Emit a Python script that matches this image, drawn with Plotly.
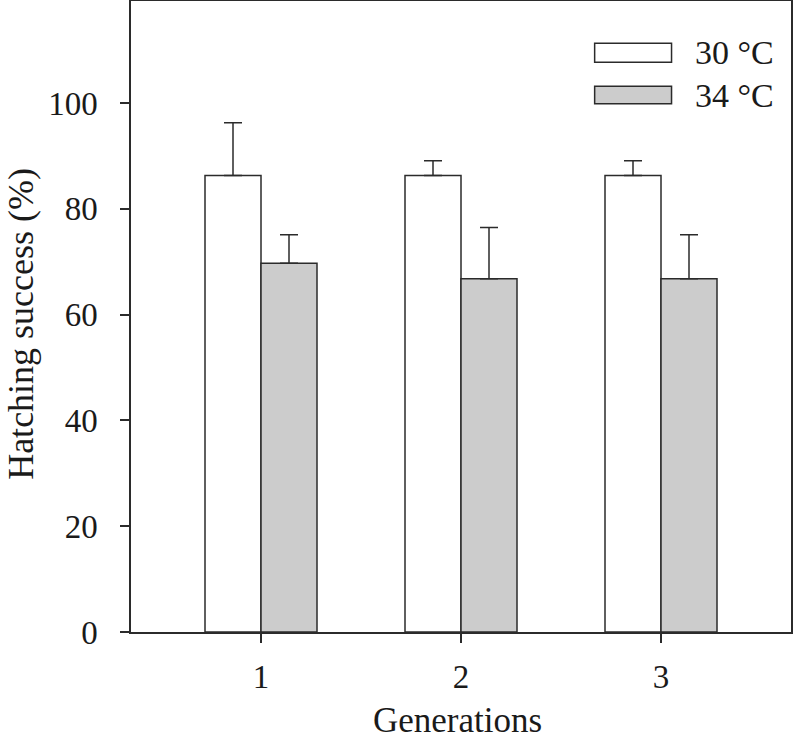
import plotly.graph_objects as go

generations = [1, 2, 3]
tick_labels = ["1", "2", "3"]
hatch_30 = [86.3, 86.3, 86.3]
err_30 = [10.0, 2.8, 2.8]
hatch_34 = [69.7, 66.8, 66.8]
err_34 = [5.4, 9.7, 8.3]
series_names = ["30 °C", "34 °C"]
x_title = "Generations"
y_title = "Hatching success (%)"

FONT = "Liberation Serif, Times New Roman, serif"
LINE = "#2b2b2b"
TEXT = "#1a1a1a"

fig = go.Figure()
fig.add_trace(go.Bar(
    x=generations, y=hatch_30, width=0.28, offset=-0.28,
    marker=dict(color="white", line=dict(color=LINE, width=1.5)),
    error_y=dict(type="data", array=err_30, arrayminus=[0, 0, 0], symmetric=False,
                 color=LINE, thickness=1.5, width=9),
    name=series_names[0], showlegend=False,
))
fig.add_trace(go.Bar(
    x=generations, y=hatch_34, width=0.28, offset=0,
    marker=dict(color="#cccccc", line=dict(color=LINE, width=1.5)),
    error_y=dict(type="data", array=err_34, arrayminus=[0, 0, 0], symmetric=False,
                 color=LINE, thickness=1.5, width=9),
    name=series_names[1], showlegend=False,
))

# manual legend (wide rectangles)
fills = ["white", "#cccccc"]
legend_rows = [(0.933, 0.903), (0.865, 0.837)]
for (y1, y0), fill, name in zip(legend_rows, fills, series_names):
    fig.add_shape(type="rect", xref="paper", yref="paper", x0=0.7025, x1=0.819,
                  y0=y0, y1=y1, fillcolor=fill, line=dict(color=LINE, width=1.5))
    fig.add_annotation(xref="paper", yref="paper", x=0.851, y=(y0 + y1) / 2,
                       text=name, showarrow=False, xanchor="left", yanchor="middle",
                       font=dict(family=FONT, size=34, color=TEXT))

# axis titles
fig.add_annotation(xref="paper", yref="paper", x=0.495, y=-0.141, text=x_title,
                   showarrow=False, xanchor="center", yanchor="middle",
                   font=dict(family=FONT, size=35, color=TEXT))
fig.add_annotation(xref="paper", yref="paper", x=-0.167, y=0.488, text=y_title,
                   showarrow=False, xanchor="center", yanchor="middle", textangle=-90,
                   font=dict(family=FONT, size=36, color=TEXT))

fig.update_layout(
    width=793, height=740,
    margin=dict(l=131, r=2, t=1, b=108),
    paper_bgcolor="white", plot_bgcolor="white",
    barmode="overlay",
    font=dict(family=FONT, color=TEXT),
    xaxis=dict(
        range=[0.35, 3.65], tickvals=generations, ticktext=tick_labels,
        showgrid=False, zeroline=False, showline=True, mirror=True, automargin=False,
        linecolor=LINE, linewidth=1.5, ticks="outside", ticklen=9, tickwidth=1.5,
        tickcolor=LINE, tickfont=dict(family=FONT, size=33), ticklabelstandoff=6,
    ),
    yaxis=dict(
        range=[0, 119.3], tickvals=[0, 20, 40, 60, 80, 100],
        showgrid=False, zeroline=False, showline=True, mirror=True, automargin=False,
        linecolor=LINE, linewidth=1.5, ticks="outside", ticklen=9, tickwidth=1.5,
        tickcolor=LINE, tickfont=dict(family=FONT, size=33), ticklabelstandoff=16,
    ),
)

fig.write_html("out.html", config={"displayModeBar": False},
               post_script="document.body.style.margin='0px';")
